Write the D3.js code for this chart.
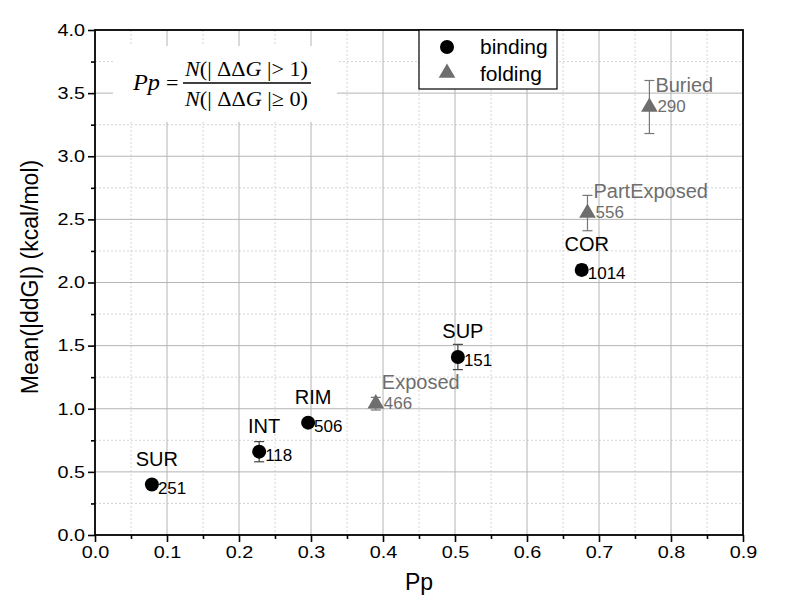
<!DOCTYPE html>
<html><head><meta charset="utf-8">
<script src="https://cdn.jsdelivr.net/npm/d3@7"></script>
<style>body{margin:0;background:#fff}svg{display:block}.sans{font-family:"Liberation Sans",Arial,sans-serif}.serif{font-family:"Liberation Serif","Times New Roman",serif}</style>
</head><body><svg id="c" width="800" height="612"></svg>
<script>
const bindingNames = ["SUR","INT","RIM","SUP","COR"];
const bindingPp = [0.079, 0.228, 0.296, 0.504, 0.676];
const bindingMean = [0.40, 0.66, 0.89, 1.41, 2.10];
const bindingErr = [0.03, 0.08, 0.03, 0.10, 0.04];
const bindingN = [251, 118, 506, 151, 1014];

const foldingNames = ["Exposed","PartExposed","Buried"];
const foldingPp = [0.390, 0.684, 0.770];
const foldingMean = [1.04, 2.55, 3.39];
const foldingErr = [0.05, 0.14, 0.21];
const foldingN = [466, 556, 290];

const xTicks = [0,0.1,0.2,0.3,0.4,0.5,0.6,0.7,0.8,0.9];
const yTicks = [0,0.5,1,1.5,2,2.5,3,3.5,4];
const legendLabels = ["binding","folding"];

const L=95,R=743,T=30,B=535;
const svg=d3.select("#c").attr("class","sans");
const x=d3.scaleLinear().domain([0,0.9]).range([L,R]);
const y=d3.scaleLinear().domain([0,4]).range([B,T]);
const bindColor="#000", foldColor="#6e6e6e";

// grid
const xMinor=xTicks.slice(0,-1).map(v=>v+0.05);
const yMinor=yTicks.slice(0,-1).map(v=>v+0.25);
const g=svg.append("g");
g.selectAll(".mx").data(xMinor).join("line").attr("x1",d=>x(d)).attr("x2",d=>x(d)).attr("y1",T).attr("y2",B)
 .attr("stroke","#d4d4d4").attr("stroke-dasharray","2,2");
g.selectAll(".my").data(yMinor).join("line").attr("y1",d=>y(d)).attr("y2",d=>y(d)).attr("x1",L).attr("x2",R)
 .attr("stroke","#d4d4d4").attr("stroke-dasharray","2,2");
g.selectAll(".Mx").data(xTicks.slice(1,-1)).join("line").attr("x1",d=>x(d)).attr("x2",d=>x(d)).attr("y1",T).attr("y2",B)
 .attr("stroke","#b4b4b4");
g.selectAll(".My").data(yTicks.slice(1,-1)).join("line").attr("y1",d=>y(d)).attr("y2",d=>y(d)).attr("x1",L).attr("x2",R)
 .attr("stroke","#b4b4b4");

// formula box
svg.append("rect").attr("x",113).attr("y",46).attr("width",224).attr("height",76).attr("fill","#fff");
const fz=22;
const fg=svg.append("g").attr("class","serif");
fg.append("text").attr("x",133).attr("y",90).attr("font-size",23).attr("font-style","italic")
  .attr("textLength",27).attr("lengthAdjust","spacingAndGlyphs").text("Pp");
fg.append("text").attr("x",166).attr("y",90).attr("font-size",fz).text("=");
function frac(yy, rel, num){
  const t=fg.append("text").attr("x",185).attr("y",yy).attr("font-size",fz)
    .attr("textLength",123).attr("lengthAdjust","spacingAndGlyphs");
  t.append("tspan").attr("font-style","italic").text("N");
  t.append("tspan").text("(| ΔΔ");
  t.append("tspan").attr("font-style","italic").text("G");
  t.append("tspan").text(" |"+rel+" "+num+")");
}
frac(76,">","1"); frac(106,"≥","0");
fg.append("line").attr("x1",183).attr("x2",311).attr("y1",83).attr("y2",83).attr("stroke","#000").attr("stroke-width",1.3);

// axes
function widen(sel){ sel.each(function(){ const w=this.getComputedTextLength(); d3.select(this).attr("textLength",w*1.2).attr("lengthAdjust","spacingAndGlyphs"); }); }
const ax=svg.append("g").attr("transform",`translate(0,${B})`).call(d3.axisBottom(x).tickValues(xTicks).tickFormat(d3.format(".1f")).tickSize(7).tickPadding(4));
const ay=svg.append("g").attr("transform",`translate(${L},0)`).call(d3.axisLeft(y).tickValues(yTicks).tickFormat(d3.format(".1f")).tickSize(7).tickPadding(3));
[ax,ay].forEach(a=>{a.select(".domain").remove();a.selectAll("line").attr("stroke","#000").attr("stroke-width",1.6);
 a.selectAll("text").attr("font-size",16.5).attr("fill","#000").attr("font-family",null).call(widen);});
svg.append("g").call(d3.axisBottom(x).tickValues(xMinor).tickSize(4).tickFormat("")).attr("transform",`translate(0,${B})`)
 .call(a=>{a.select(".domain").remove();a.selectAll("line").attr("stroke","#000").attr("stroke-width",1.6);});
svg.append("g").call(d3.axisLeft(y).tickValues(yMinor).tickSize(4).tickFormat("")).attr("transform",`translate(${L},0)`)
 .call(a=>{a.select(".domain").remove();a.selectAll("line").attr("stroke","#000").attr("stroke-width",1.6);});
svg.append("rect").attr("x",L).attr("y",T).attr("width",R-L).attr("height",B-T).attr("fill","none").attr("stroke","#000").attr("stroke-width",1.8);

svg.append("text").attr("x",419).attr("y",590).attr("text-anchor","middle").attr("font-size",23).text("Pp");
svg.append("text").attr("transform","translate(38,277) rotate(-90)").attr("text-anchor","middle").attr("font-size",23).text("Mean(|ddG|) (kcal/mol)");

// error bars
function errs(px,py,pe,col){
  const e=svg.append("g").attr("stroke",col).attr("stroke-width",1.2);
  px.forEach((v,i)=>{
    const cx=x(v),y1=y(py[i]+pe[i]),y2=y(py[i]-pe[i]);
    e.append("line").attr("x1",cx).attr("x2",cx).attr("y1",y1).attr("y2",y2);
    e.append("line").attr("x1",cx-5).attr("x2",cx+5).attr("y1",y1).attr("y2",y1);
    e.append("line").attr("x1",cx-5).attr("x2",cx+5).attr("y1",y2).attr("y2",y2);
  });
}
errs(bindingPp,bindingMean,bindingErr,"#444");
errs(foldingPp,foldingMean,foldingErr,"#777");

svg.append("g").selectAll("circle").data(bindingPp).join("circle")
 .attr("cx",d=>x(d)).attr("cy",(d,i)=>y(bindingMean[i])).attr("r",7).attr("fill",bindColor);
const tri=d3.symbol(d3.symbolTriangle,120);
svg.append("g").selectAll("path").data(foldingPp).join("path")
 .attr("transform",(d,i)=>`translate(${x(d)},${y(foldingMean[i])})`).attr("d",tri).attr("fill",foldColor);

// labels
bindingPp.forEach((v,i)=>{
  svg.append("text").attr("x",x(v)+5).attr("y",y(bindingMean[i])-19).attr("text-anchor","middle").attr("font-size",20).text(bindingNames[i]);
  svg.append("text").attr("x",x(v)+6).attr("y",y(bindingMean[i])+9).attr("font-size",17).text(bindingN[i]);
});
foldingPp.forEach((v,i)=>{
  svg.append("text").attr("x",x(v)+6).attr("y",y(foldingMean[i])-15).attr("font-size",20).attr("fill",foldColor).text(foldingNames[i]);
  svg.append("text").attr("x",x(v)+8).attr("y",y(foldingMean[i])+5).attr("font-size",17).attr("fill",foldColor).text(foldingN[i]);
});

// legend
svg.append("rect").attr("x",419).attr("y",T).attr("width",138).attr("height",59).attr("fill","#fff").attr("stroke","#000").attr("stroke-width",1.2);
svg.append("circle").attr("cx",447).attr("cy",47).attr("r",7).attr("fill",bindColor);
svg.append("path").attr("transform","translate(447,73)").attr("d",tri).attr("fill",foldColor);
svg.append("text").attr("x",480).attr("y",54).attr("font-size",21).text(legendLabels[0]);
svg.append("text").attr("x",480).attr("y",81).attr("font-size",21).text(legendLabels[1]);
</script></body></html>
